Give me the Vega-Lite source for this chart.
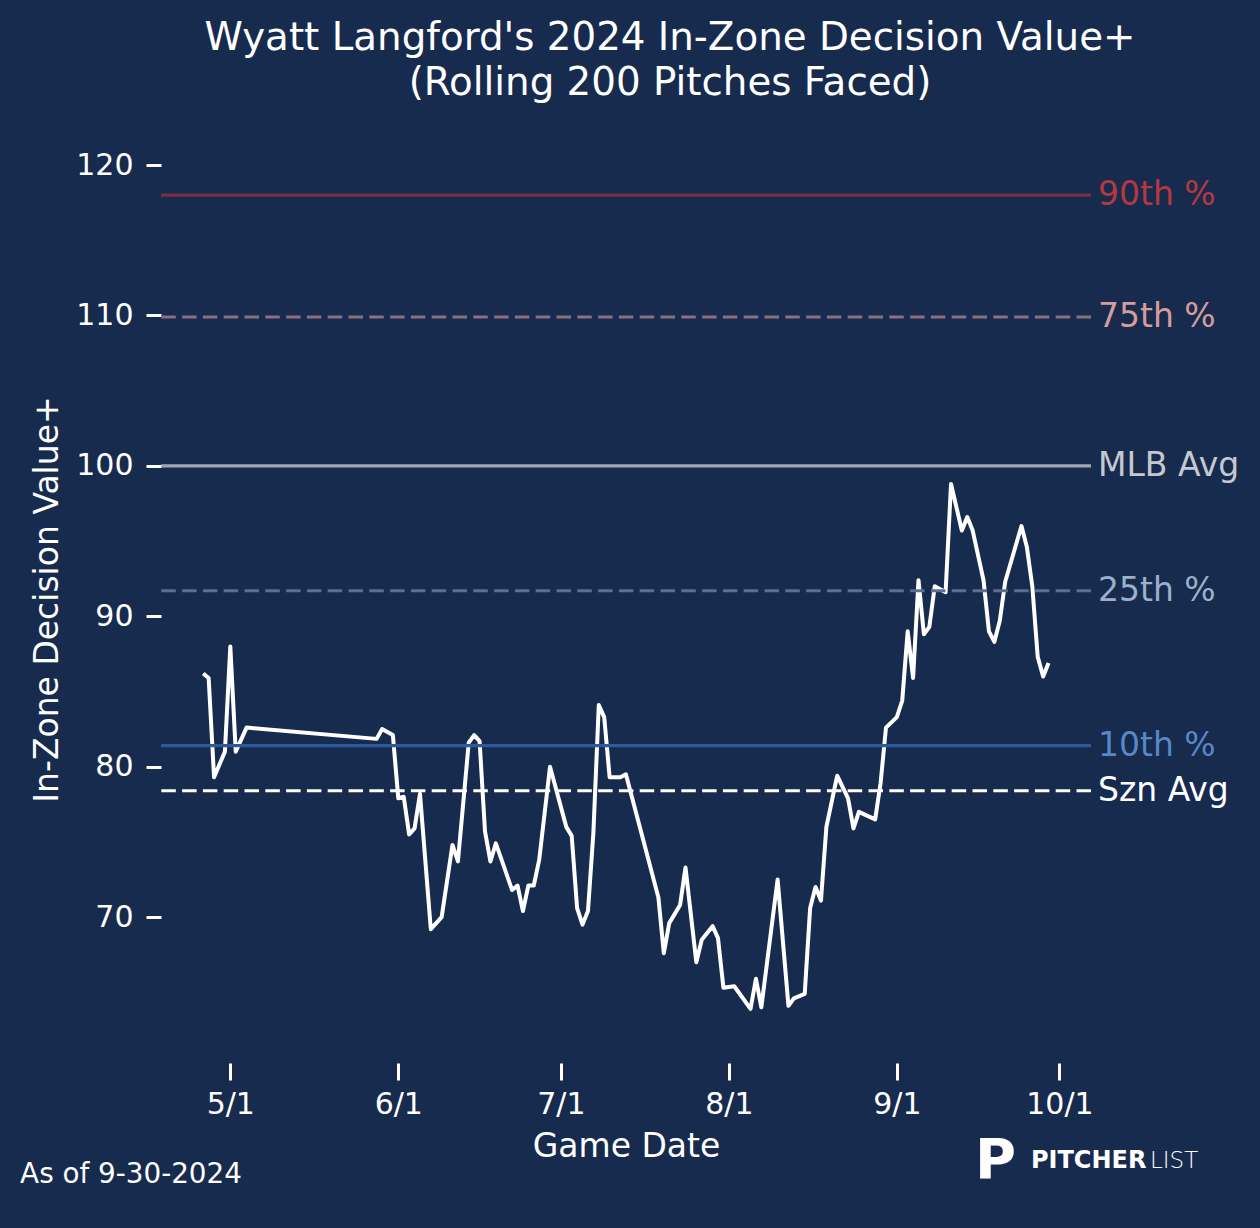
{
  "$schema": "https://vega.github.io/schema/vega-lite/v6.json",
  "width": 930,
  "height": 928,
  "autosize": "none",
  "padding": {"left": 161, "top": 135, "right": 169, "bottom": 165},
  "background": "#172B4F",
  "title": {
    "text": ["Wyatt Langford's 2024 In-Zone Decision Value+", "(Rolling 200 Pitches Faced)"],
    "font": "DejaVu Sans",
    "fontSize": 38.8,
    "fontWeight": "normal",
    "color": "#FFFFFF",
    "lineHeight": 45,
    "offset": 32,
    "dx": 44,
    "anchor": "middle"
  },
  "datasets": {
    "rolling": [
      {"date": "2024-04-26T00:00", "value": 86.2},
      {"date": "2024-04-27T00:00", "value": 85.9},
      {"date": "2024-04-28T00:00", "value": 79.3},
      {"date": "2024-04-30T00:00", "value": 81.0},
      {"date": "2024-05-01T00:00", "value": 88.0},
      {"date": "2024-05-02T00:00", "value": 81.0},
      {"date": "2024-05-04T00:00", "value": 82.6},
      {"date": "2024-05-28T00:00", "value": 81.85},
      {"date": "2024-05-29T00:00", "value": 82.5},
      {"date": "2024-05-31T00:00", "value": 82.1},
      {"date": "2024-06-01T00:00", "value": 77.9},
      {"date": "2024-06-02T00:00", "value": 78.0},
      {"date": "2024-06-03T00:00", "value": 75.5},
      {"date": "2024-06-04T00:00", "value": 75.9},
      {"date": "2024-06-05T00:00", "value": 78.2},
      {"date": "2024-06-07T00:00", "value": 69.2},
      {"date": "2024-06-09T00:00", "value": 70.0},
      {"date": "2024-06-11T00:00", "value": 74.8},
      {"date": "2024-06-12T00:00", "value": 73.7},
      {"date": "2024-06-14T00:00", "value": 81.6},
      {"date": "2024-06-15T00:00", "value": 82.1},
      {"date": "2024-06-16T00:00", "value": 81.7},
      {"date": "2024-06-17T00:00", "value": 75.7},
      {"date": "2024-06-18T00:00", "value": 73.7},
      {"date": "2024-06-19T00:00", "value": 74.9},
      {"date": "2024-06-22T00:00", "value": 71.8},
      {"date": "2024-06-23T00:00", "value": 72.1},
      {"date": "2024-06-24T00:00", "value": 70.4},
      {"date": "2024-06-25T00:00", "value": 72.1},
      {"date": "2024-06-26T00:00", "value": 72.1},
      {"date": "2024-06-27T00:00", "value": 73.8},
      {"date": "2024-06-29T00:00", "value": 80.0},
      {"date": "2024-07-02T00:00", "value": 76.0},
      {"date": "2024-07-03T00:00", "value": 75.4},
      {"date": "2024-07-04T00:00", "value": 70.6},
      {"date": "2024-07-05T00:00", "value": 69.5},
      {"date": "2024-07-06T00:00", "value": 70.4},
      {"date": "2024-07-07T00:00", "value": 75.6},
      {"date": "2024-07-08T00:00", "value": 84.1},
      {"date": "2024-07-09T00:00", "value": 83.3},
      {"date": "2024-07-10T00:00", "value": 79.3},
      {"date": "2024-07-12T00:00", "value": 79.3},
      {"date": "2024-07-13T00:00", "value": 79.5},
      {"date": "2024-07-19T00:00", "value": 71.3},
      {"date": "2024-07-20T00:00", "value": 67.6},
      {"date": "2024-07-21T00:00", "value": 69.6},
      {"date": "2024-07-23T00:00", "value": 70.8},
      {"date": "2024-07-24T00:00", "value": 73.3},
      {"date": "2024-07-26T00:00", "value": 67.0},
      {"date": "2024-07-27T00:00", "value": 68.5},
      {"date": "2024-07-29T00:00", "value": 69.4},
      {"date": "2024-07-30T00:00", "value": 68.6},
      {"date": "2024-07-31T00:00", "value": 65.3},
      {"date": "2024-08-02T00:00", "value": 65.4},
      {"date": "2024-08-05T00:00", "value": 63.9},
      {"date": "2024-08-06T00:00", "value": 65.9},
      {"date": "2024-08-07T00:00", "value": 64.0},
      {"date": "2024-08-10T00:00", "value": 72.5},
      {"date": "2024-08-12T00:00", "value": 64.1},
      {"date": "2024-08-13T00:00", "value": 64.6},
      {"date": "2024-08-15T00:00", "value": 64.9},
      {"date": "2024-08-16T00:00", "value": 70.6},
      {"date": "2024-08-17T00:00", "value": 72.0},
      {"date": "2024-08-18T00:00", "value": 71.1},
      {"date": "2024-08-19T00:00", "value": 76.0},
      {"date": "2024-08-21T00:00", "value": 79.4},
      {"date": "2024-08-23T00:00", "value": 77.9},
      {"date": "2024-08-24T00:00", "value": 75.9},
      {"date": "2024-08-25T00:00", "value": 77.0},
      {"date": "2024-08-28T00:00", "value": 76.5},
      {"date": "2024-08-29T00:00", "value": 78.9},
      {"date": "2024-08-30T00:00", "value": 82.6},
      {"date": "2024-09-01T00:00", "value": 83.3},
      {"date": "2024-09-02T00:00", "value": 84.4},
      {"date": "2024-09-03T00:00", "value": 89.0},
      {"date": "2024-09-04T00:00", "value": 85.9},
      {"date": "2024-09-05T00:00", "value": 92.4},
      {"date": "2024-09-06T00:00", "value": 88.8},
      {"date": "2024-09-07T00:00", "value": 89.3},
      {"date": "2024-09-08T00:00", "value": 92.0},
      {"date": "2024-09-10T00:00", "value": 91.6},
      {"date": "2024-09-11T00:00", "value": 98.8},
      {"date": "2024-09-13T00:00", "value": 95.7},
      {"date": "2024-09-14T00:00", "value": 96.6},
      {"date": "2024-09-15T00:00", "value": 95.7},
      {"date": "2024-09-17T00:00", "value": 92.4},
      {"date": "2024-09-18T00:00", "value": 89.0},
      {"date": "2024-09-19T00:00", "value": 88.3},
      {"date": "2024-09-20T00:00", "value": 89.7},
      {"date": "2024-09-21T00:00", "value": 92.3},
      {"date": "2024-09-24T00:00", "value": 96.0},
      {"date": "2024-09-25T00:00", "value": 94.6},
      {"date": "2024-09-26T00:00", "value": 92.0},
      {"date": "2024-09-27T00:00", "value": 87.3},
      {"date": "2024-09-28T00:00", "value": 86.0},
      {"date": "2024-09-29T00:00", "value": 86.9}
    ],
    "refs": [
      {"label": "90th %", "value": 118.0},
      {"label": "75th %", "value": 109.9},
      {"label": "MLB Avg", "value": 100.0},
      {"label": "25th %", "value": 91.7},
      {"label": "10th %", "value": 81.4},
      {"label": "Szn Avg", "value": 78.4}
    ]
  },
  "layer": [
    {
      "data": {"name": "rolling"},
      "mark": {"type": "line", "color": "#FFFFFF", "strokeWidth": 4, "strokeJoin": "round"},
      "encoding": {
        "x": {
          "field": "date",
          "type": "temporal",
          "title": "Game Date",
          "scale": {
            "domain": [
              {"year": 2024, "month": 4, "date": 18, "hours": 5},
              {"year": 2024, "month": 10, "date": 6, "hours": 20}
            ],
            "nice": false
          },
          "axis": {
            "values": [
              {"year": 2024, "month": 5, "date": 1},
              {"year": 2024, "month": 6, "date": 1},
              {"year": 2024, "month": 7, "date": 1},
              {"year": 2024, "month": 8, "date": 1},
              {"year": 2024, "month": 9, "date": 1},
              {"year": 2024, "month": 10, "date": 1}
            ],
            "format": "%-m/%-d"
          }
        },
        "y": {
          "field": "value",
          "type": "quantitative",
          "title": "In-Zone Decision Value+",
          "scale": {"domain": [60.3, 122], "nice": false, "zero": false},
          "axis": {"values": [70, 80, 90, 100, 110, 120]}
        }
      }
    },
    {
      "data": {"name": "refs"},
      "mark": {"type": "rule", "strokeWidth": 3.2},
      "encoding": {
        "y": {
          "field": "value",
          "type": "quantitative",
          "title": "In-Zone Decision Value+",
          "scale": {"domain": [60.3, 122], "nice": false, "zero": false}
        },
        "stroke": {
          "field": "label",
          "type": "nominal",
          "scale": {
            "domain": ["90th %", "75th %", "MLB Avg", "25th %", "10th %", "Szn Avg"],
            "range": ["#7A2E40", "#8E6E7C", "#A4A6B2", "#5B6F91", "#2D5A9C", "#FFFFFF"]
          },
          "legend": null
        },
        "strokeDash": {
          "field": "label",
          "type": "nominal",
          "scale": {
            "domain": ["90th %", "75th %", "MLB Avg", "25th %", "10th %", "Szn Avg"],
            "range": [[1, 0], [14.5, 6.3], [1, 0], [14.5, 6.3], [1, 0], [14.5, 6.3]]
          },
          "legend": null
        }
      }
    },
    {
      "data": {"name": "refs"},
      "mark": {"type": "text", "align": "left", "baseline": "middle", "dx": 7, "font": "DejaVu Sans", "fontSize": 33},
      "encoding": {
        "x": {
          "datum": {"year": 2024, "month": 10, "date": 6, "hours": 20},
          "type": "temporal",
          "title": "Game Date"
        },
        "y": {
          "field": "value",
          "type": "quantitative",
          "title": "In-Zone Decision Value+"
        },
        "text": {"field": "label"},
        "color": {
          "field": "label",
          "type": "nominal",
          "scale": {
            "domain": ["90th %", "75th %", "MLB Avg", "25th %", "10th %", "Szn Avg"],
            "range": ["#B5383F", "#D59C9C", "#C6C8D0", "#9DAFCA", "#5A87C5", "#FFFFFF"]
          },
          "legend": null
        }
      }
    },
    {
      "data": {"values": [{"note": "As of 9-30-2024"}]},
      "mark": {"type": "text", "align": "left", "baseline": "alphabetic", "font": "DejaVu Sans", "fontSize": 27.8, "color": "#FFFFFF"},
      "encoding": {
        "x": {"datum": {"year": 2024, "month": 3, "date": 23, "hours": 5}, "type": "temporal", "title": "Game Date"},
        "y": {"datum": 52.3, "type": "quantitative", "title": "In-Zone Decision Value+"},
        "text": {"field": "note"}
      }
    },
    {
      "data": {"values": [{"mark": "P"}]},
      "mark": {"type": "text", "align": "left", "baseline": "alphabetic", "font": "DejaVu Sans", "fontSize": 56, "fontWeight": "bold", "color": "#FFFFFF"},
      "encoding": {
        "x": {"datum": {"year": 2024, "month": 9, "date": 15, "hours": 10}, "type": "temporal", "title": "Game Date"},
        "y": {"datum": 52.65, "type": "quantitative", "title": "In-Zone Decision Value+"},
        "text": {"field": "mark"}
      }
    },
    {
      "data": {"values": [{"word": "PITCHER"}]},
      "mark": {"type": "text", "align": "left", "baseline": "alphabetic", "font": "DejaVu Sans", "fontSize": 24, "fontWeight": "bold", "color": "#FFFFFF"},
      "encoding": {
        "x": {"datum": {"year": 2024, "month": 9, "date": 25, "hours": 18}, "type": "temporal", "title": "Game Date"},
        "y": {"datum": 53.3, "type": "quantitative", "title": "In-Zone Decision Value+"},
        "text": {"field": "word"}
      }
    },
    {
      "data": {"values": [{"word": "LIST"}]},
      "mark": {"type": "text", "align": "left", "baseline": "alphabetic", "font": "DejaVu Sans", "fontSize": 23, "fontWeight": 300, "color": "#FFFFFF"},
      "encoding": {
        "x": {"datum": {"year": 2024, "month": 10, "date": 17, "hours": 17}, "type": "temporal", "title": "Game Date"},
        "y": {"datum": 53.3, "type": "quantitative", "title": "In-Zone Decision Value+"},
        "text": {"field": "word"}
      }
    }
  ],
  "config": {
    "font": "DejaVu Sans",
    "view": {"stroke": null},
    "axis": {
      "domain": false,
      "grid": false,
      "ticks": true,
      "tickColor": "#FFFFFF",
      "tickWidth": 3,
      "labelColor": "#FFFFFF",
      "labelFont": "DejaVu Sans",
      "labelFontSize": 30,
      "titleColor": "#FFFFFF",
      "titleFont": "DejaVu Sans",
      "titleFontSize": 33,
      "titleFontWeight": "normal"
    },
    "axisX": {"tickSize": 17, "labelPadding": 9, "titlePadding": 11},
    "axisY": {"tickSize": 15, "labelPadding": 13, "titlePadding": 11}
  }
}
